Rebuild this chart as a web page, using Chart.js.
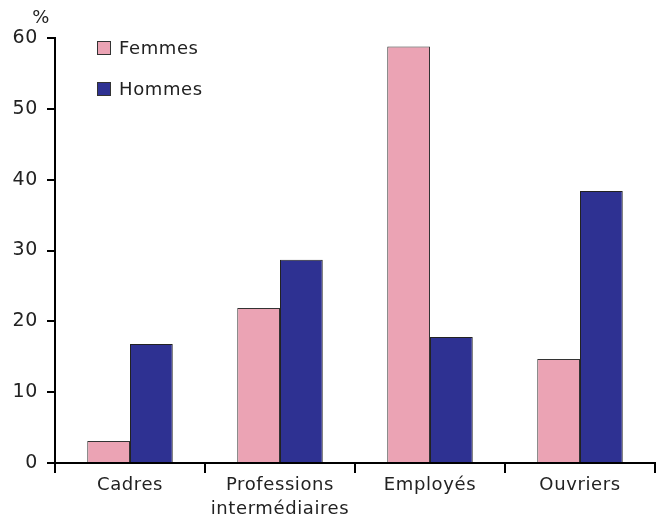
<!DOCTYPE html>
<html>
<head>
<meta charset="utf-8">
<script src="https://cdn.jsdelivr.net/npm/chart.js@4"></script>
<style>
  html, body { margin: 0; padding: 0; background: #fff; }
  #wrap { width: 663px; height: 515px; position: relative; }
</style>
</head>
<body>
<div id="wrap"><canvas id="chart"></canvas></div>
<script>
const categories = ["Cadres", ["Professions", "intermédiaires"], "Employés", "Ouvriers"];
const femmes = [3.1, 21.9, 58.8, 14.7];
const hommes = [16.8, 28.7, 17.8, 38.4];
const yTicks = [0, 10, 20, 30, 40, 50, 60];

const FONT = "'DejaVu Sans', Verdana, sans-serif";

// a bit of tracking, the original text is loosely spaced
const spacing = {
  id: "spacing",
  beforeDraw(chart) { chart.ctx.letterSpacing = "0.6px"; }
};

// legend + "%" drawn inside the plot area, top left
const innerLegend = {
  id: "innerLegend",
  afterDraw(chart) {
    const ctx = chart.ctx;
    const left = chart.chartArea.left;
    ctx.save();
    ctx.letterSpacing = "0.6px";
    ctx.font = "18px " + FONT;
    ctx.fillStyle = "#222";
    ctx.textBaseline = "middle";
    ctx.textAlign = "center";
    ctx.fillText("%", left - 14, 18);
    ctx.textAlign = "left";
    chart.data.datasets.forEach((ds, i) => {
      const y = 48 + i * 41;
      ctx.fillStyle = ds.backgroundColor;
      ctx.fillRect(left + 42, y - 7, 14, 14);
      ctx.strokeStyle = "#333";
      ctx.lineWidth = 1;
      ctx.strokeRect(left + 42.5, y - 6.5, 13, 13);
      ctx.fillStyle = "#222";
      ctx.fillText(ds.label, left + 64, y + 1);
    });
    ctx.restore();
  }
};

new Chart(document.getElementById("chart"), {
  type: "bar",
  data: {
    labels: categories,
    datasets: [
      {
        label: "Femmes",
        data: femmes,
        backgroundColor: "#EBA3B4",
        borderColor: "#333",
        borderWidth: 1,
        categoryPercentage: 0.57,
        barPercentage: 1.0
      },
      {
        label: "Hommes",
        data: hommes,
        backgroundColor: "#2E3192",
        borderColor: "#222",
        borderWidth: 1,
        categoryPercentage: 0.57,
        barPercentage: 1.0
      }
    ]
  },
  options: {
    responsive: true,
    maintainAspectRatio: false,
    animation: false,
    layout: { padding: { top: 38, right: 8, left: 0, bottom: 0 } },
    plugins: {
      legend: { display: false },
      tooltip: { enabled: false }
    },
    scales: {
      x: {
        grid: {
          display: true,
          offset: true,
          drawOnChartArea: false,
          drawTicks: true,
          tickLength: 10,
          color: "#000",
          lineWidth: 2
        },
        border: { display: true, color: "#000", width: 2 },
        ticks: {
          color: "#222",
          font: { family: FONT, size: 18, lineHeight: 1.35 },
          padding: 0,
          maxRotation: 0
        },
        afterFit(scale) { scale.height = 52; }
      },
      y: {
        min: 0,
        max: 60,
        afterBuildTicks(scale) { scale.ticks = yTicks.map(v => ({ value: v })); },
        grid: {
          display: true,
          drawOnChartArea: false,
          drawTicks: true,
          tickLength: 8,
          color: "#000",
          lineWidth: 2
        },
        border: { display: true, color: "#000", width: 2 },
        ticks: {
          color: "#222",
          font: { family: FONT, size: 19 },
          padding: 9
        },
        afterFit(scale) { scale.width = 55; }
      }
    }
  },
  plugins: [spacing, innerLegend]
});
</script>
</body>
</html>
